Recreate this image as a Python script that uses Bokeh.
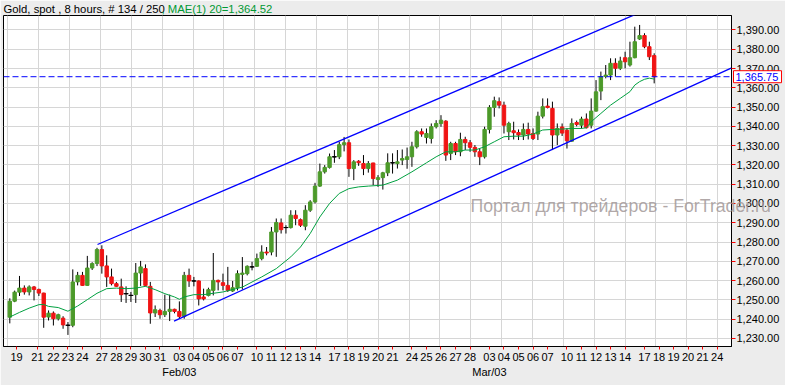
from bokeh.plotting import figure
from bokeh.models import (Range1d, FixedTicker, NumeralTickFormatter, LinearAxis, Span,
                          ColumnDataSource)
from bokeh.core.properties import value
from bokeh.embed import file_html
from bokeh.resources import INLINE

# ---------------- data ----------------
opens = [1241.0,1249.3,1254.0,1256.1,1254.1,1256.7,1255.4,1253.5,1241.1,1243.1,
         1240.2,1240.5,1236.8,1236.8,1259.3,1262.7,1257.5,1266.5,1268.8,1276.1,
         1267.6,1261.9,1258.4,1256.7,1253.2,1252.3,1252.7,1263.9,1266.2,1257.0,
         1243.2,1244.5,1242.3,1244.0,1245.1,1244.0,1241.4,1262.7,1259.8,1259.8,
         1251.5,1252.3,1254.9,1260.1,1258.9,1257.5,1254.6,1256.3,1263.2,1263.6,
         1267.1,1267.4,1271.4,1274.8,1274.8,1285.2,1289.9,1287.5,1287.5,1293.9,
         1291.6,1288.2,1296.5,1300.8,1309.0,1316.4,1318.7,1324.2,1324.2,1330.5,
         1331.5,1318.1,1321.9,1320.7,1318.1,1321.0,1312.4,1313.4,1315.9,1321.1,
         1320.7,1322.5,1322.8,1324.2,1329.4,1337.2,1334.2,1333.7,1339.8,1341.5,
         1342.7,1325.9,1331.1,1326.8,1333.2,1331.5,1329.1,1326.8,1324.2,1338.4,
         1349.8,1352.8,1351.0,1337.2,1337.7,1336.8,1335.5,1338.4,1336.3,1336.0,
         1345.3,1350.5,1349.3,1335.5,1339.7,1338.0,1332.3,1342.0,1340.6,1343.8,
         1340.6,1347.9,1358.3,1365.9,1366.6,1372.7,1370.1,1375.6,1371.8,1375.6,
         1385.3,1387.1,1381.3,1376.7]
closes = [1249.3,1254.0,1256.1,1254.1,1256.7,1255.4,1253.5,1241.0,1243.1,1240.2,
          1242.3,1237.0,1236.8,1259.3,1262.7,1257.5,1266.5,1268.8,1276.1,1267.6,
          1261.9,1258.4,1257.0,1252.7,1253.2,1252.3,1263.9,1267.1,1257.5,1243.2,
          1244.9,1242.3,1244.0,1245.1,1244.0,1241.4,1262.7,1259.8,1259.8,1250.5,
          1250.5,1255.3,1260.1,1259.3,1257.5,1254.9,1256.3,1263.6,1263.9,1267.4,
          1267.1,1271.4,1274.8,1274.3,1285.2,1290.1,1286.4,1287.5,1293.9,1292.2,
          1288.7,1296.5,1300.8,1309.0,1316.4,1318.7,1324.2,1324.2,1330.5,1331.5,
          1318.1,1321.6,1321.1,1318.1,1320.7,1312.9,1313.4,1315.9,1321.1,1321.1,
          1321.6,1323.3,1324.2,1329.4,1337.2,1336.0,1336.3,1339.8,1341.5,1343.2,
          1325.1,1331.1,1326.8,1333.2,1331.5,1329.1,1326.8,1324.2,1338.4,1349.8,
          1353.3,1351.0,1340.6,1341.5,1336.7,1335.5,1338.4,1336.0,1333.7,1345.3,
          1350.2,1349.8,1335.5,1338.9,1336.5,1332.5,1341.5,1341.0,1343.8,1339.3,
          1347.9,1357.9,1365.8,1366.6,1372.7,1370.1,1373.9,1373.5,1375.6,1383.9,
          1387.1,1381.3,1376.1,1365.75]
highs = [1250.8,1254.8,1262.4,1257.5,1257.5,1257.2,1255.8,1253.7,1244.5,1244.0,
         1242.8,1241.5,1238.5,1265.8,1264.5,1264.5,1272.8,1269.5,1277.0,1278.3,
         1273.1,1266.2,1259.3,1261.0,1257.0,1254.1,1269.1,1270.2,1268.4,1259.3,
         1247.1,1245.4,1252.7,1252.7,1245.4,1249.2,1264.5,1266.2,1261.9,1260.1,
         1255.8,1256.3,1274.3,1260.5,1263.6,1267.1,1259.8,1265.3,1272.2,1267.9,
         1269.7,1274.0,1278.3,1277.4,1287.8,1292.2,1292.2,1288.7,1296.5,1296.5,
         1292.2,1299.1,1301.7,1310.7,1320.7,1319.9,1325.9,1327.7,1332.0,1334.5,
         1333.2,1322.5,1322.5,1325.1,1322.0,1321.1,1314.7,1316.4,1326.0,1326.0,
         1327.7,1328.0,1329.0,1332.0,1338.0,1338.9,1338.9,1341.5,1343.2,1345.8,
         1343.2,1332.0,1332.0,1336.7,1334.6,1332.9,1330.3,1328.5,1339.8,1351.0,
         1355.4,1355.0,1352.8,1342.4,1342.4,1338.4,1341.5,1341.9,1338.9,1347.6,
         1354.5,1354.5,1352.8,1341.5,1341.5,1339.0,1344.1,1343.0,1345.0,1346.7,
         1354.5,1364.0,1368.4,1371.8,1375.3,1375.3,1376.1,1378.7,1383.9,1391.7,
         1392.6,1388.3,1383.9,1377.9]
lows = [1237.8,1248.8,1252.0,1252.7,1252.3,1249.7,1252.0,1235.5,1239.3,1236.7,
        1239.3,1235.0,1231.8,1235.8,1257.5,1257.2,1257.2,1265.5,1267.5,1263.6,
        1256.7,1257.5,1256.7,1248.9,1248.4,1248.9,1248.4,1257.2,1257.0,1237.6,
        1241.1,1240.2,1241.1,1239.0,1243.0,1240.2,1240.2,1256.7,1257.0,1247.1,
        1249.7,1251.8,1252.3,1254.9,1254.9,1254.1,1254.1,1254.9,1255.3,1262.7,
        1265.3,1267.1,1270.5,1273.1,1273.1,1272.3,1284.4,1284.4,1287.0,1288.7,
        1287.8,1286.1,1295.6,1300.0,1308.6,1315.5,1318.1,1321.1,1323.0,1327.0,
        1313.8,1312.1,1319.5,1314.7,1316.0,1309.5,1308.6,1307.2,1314.2,1315.5,
        1318.1,1319.9,1318.0,1319.0,1328.5,1334.6,1331.1,1331.1,1338.9,1339.8,
        1322.1,1322.5,1325.1,1324.5,1327.7,1326.8,1324.2,1319.9,1323.3,1336.3,
        1345.0,1349.3,1336.3,1332.9,1333.2,1332.9,1332.9,1333.2,1332.9,1332.9,
        1344.1,1349.3,1327.7,1330.3,1335.0,1328.5,1332.0,1340.0,1338.9,1338.9,
        1338.9,1347.6,1353.6,1364.9,1364.0,1365.8,1369.2,1370.1,1371.0,1375.3,
        1384.8,1380.5,1374.4,1362.3]

# 20-period moving average (read at sampled bars)
ma_idx = [0, 2, 4, 6, 7, 8, 10, 12, 14, 16, 18, 20, 22, 24, 26, 28, 30, 32, 34, 35,
          36, 38, 40, 44, 48, 52, 55, 58, 60, 62, 64, 66, 68, 70, 72, 74, 77, 80, 83, 86,
          88, 90, 92, 94, 96, 98, 100, 102, 104, 106, 108, 110, 112, 114, 116, 118, 119, 120, 122, 124,
          126, 128, 129, 130, 131, 132, 133]
ma_val = [1241.1, 1243.5, 1245.7, 1247.5, 1247.6, 1246.6, 1246.0, 1244.1, 1246.8, 1250.1,
          1253.4, 1255.8, 1256.1, 1255.8, 1256.1, 1257.0, 1255.3, 1253.2, 1251.5, 1250.3,
          1251.5, 1252.7, 1252.7, 1254.1, 1256.6, 1261.9, 1266.2, 1272.3, 1277.4, 1284.4,
          1293.0, 1300.0, 1305.2, 1307.7, 1308.6, 1309.0, 1309.5, 1312.1, 1316.4, 1321.1,
          1324.2, 1326.8, 1326.8, 1327.7, 1327.7, 1329.4, 1332.0, 1334.6, 1334.9, 1334.9,
          1336.0, 1338.1, 1338.4, 1338.6, 1338.9, 1338.9, 1339.3, 1342.4, 1346.7, 1351.0,
          1354.5, 1358.0, 1361.4, 1363.2, 1364.4, 1365.0, 1364.52]

# channel lines (bar index, price)
upper_idx = [18.1, 134.0]
upper_px = [1278.7, 1403.3]
lower_idx = [33.9, 149.0]
lower_px = [1239.0, 1370.3]
last_price = 1365.75
ma_last = 1364.52

# x-axis day ticks
day_pos = [1.4, 5.7, 9, 12, 15, 19, 22, 25, 28, 31, 35, 38, 41, 44, 47, 51, 54, 57, 60, 63,
           67, 70, 73, 76, 79, 83, 86, 89, 92, 95, 99, 102, 105, 108, 111, 115, 118, 121, 124, 127,
           131, 134, 137, 140, 143, 146]
day_lab = ["19", "21", "22", "23", "24", "27", "28", "29", "30", "31",
           "03", "04", "05", "06", "07", "10", "11", "12", "13", "14",
           "17", "18", "19", "20", "21", "24", "25", "26", "27", "28",
           "03", "04", "05", "06", "07", "10", "11", "12", "13", "14",
           "17", "18", "19", "20", "21", "24"]
month_pos = [35, 99]
month_lab = ["Feb/03", "Mar/03"]
y_ticks = [1230, 1240, 1250, 1260, 1270, 1280, 1290, 1300, 1310, 1320, 1330, 1340,
           1350, 1360, 1370, 1380, 1390]

# ---------------- figure ----------------
FONT = "Liberation Sans"
GREEN = "#4c9a2a"
RED = "#f01414"
W, H = 785, 385
X0, X1 = -1.3, 148.96
Y0, Y1 = 1225.8, 1397.5
FL, FR, FT, FB = 3, 731, 15, 346   # frame edges in pixels

p = figure(width=W, height=H, x_range=Range1d(X0, X1), y_range=Range1d(Y0, Y1),
           output_backend="svg", toolbar_location=None, y_axis_location="right", title=None,
           min_border_left=FL, min_border_right=W - FR, min_border_top=FT, min_border_bottom=H - FB)
p.background_fill_color = "white"
p.border_fill_color = "#ececec"
p.outline_line_color = "black"
p.outline_line_width = 1

# grids
p.ygrid.grid_line_color = "#d6d6d6"
p.xgrid.grid_line_color = "#d6d6d6"
p.xgrid.ticker = FixedTicker(ticks=[-0.4 + 6.37 * k for k in range(24)])

# y axis
ya = p.yaxis[0]
ya.ticker = FixedTicker(ticks=y_ticks)
ya.formatter = NumeralTickFormatter(format="0,0.00")
ya.major_tick_line_color = "red"
ya.major_tick_out = 4
ya.major_tick_in = 0
ya.minor_tick_line_color = None
ya.axis_line_color = "black"
ya.major_label_standoff = 1
ya.major_label_text_font = FONT
ya.major_label_text_font_size = "11px"
ya.major_label_text_color = "black"

# x axis (days)
xa = p.xaxis[0]
xa.ticker = FixedTicker(ticks=day_pos)
xa.major_label_overrides = {k: v for k, v in zip(day_pos, day_lab)}
xa.major_tick_line_color = "red"
xa.major_tick_out = 3
xa.major_tick_in = 0
xa.minor_tick_line_color = None
xa.axis_line_color = "black"
xa.major_label_standoff = 3
xa.major_label_text_font = FONT
xa.major_label_text_font_size = "11px"
xa.major_label_text_color = "black"

# month axis
mx = LinearAxis(ticker=FixedTicker(ticks=month_pos),
                major_label_overrides={k: v for k, v in zip(month_pos, month_lab)})
mx.major_tick_line_color = None
mx.minor_tick_line_color = None
mx.axis_line_color = None
mx.major_tick_out = 0
mx.major_tick_in = 0
mx.major_label_standoff = 2
mx.major_label_text_font = FONT
mx.major_label_text_font_size = "11px"
mx.major_label_text_color = "black"
p.add_layout(mx, "below")

# candles
idx = list(range(len(opens)))
body_top = [max(o, c) for o, c in zip(opens, closes)]
body_bot = [min(o, c) for o, c in zip(opens, closes)]
colors = [GREEN if c > o else (RED if c < o else "black") for o, c in zip(opens, closes)]
src = ColumnDataSource(dict(x=idx, top=body_top, bottom=body_bot, high=highs, low=lows, color=colors))
p.segment(x0="x", y0="low", x1="x", y1="high", source=src, line_color="black", line_width=1)
p.vbar(x="x", width=0.7, top="top", bottom="bottom", source=src, fill_color="color", line_color="color")
doji = [i for i in idx if opens[i] == closes[i]]
p.segment(x0=[i - 0.5 for i in doji], x1=[i + 0.5 for i in doji],
          y0=[opens[i] for i in doji], y1=[opens[i] for i in doji], line_color="black", line_width=1)

# moving average
p.line(ma_idx, ma_val, line_color="#00a040", line_width=1)

# channel
p.line(upper_idx, upper_px, line_color="#0000ff", line_width=1.3)
p.line(lower_idx, lower_px, line_color="#0000ff", line_width=1.3)

# last price line
p.add_layout(Span(location=last_price, dimension="width", line_color="#0000ff",
                  line_dash="6 3", line_width=1))

# pixel -> data helpers for overlay texts placed around the frame
def dx(px):
    return X0 + (px - FL) / (FR - FL) * (X1 - X0)

def dy(py):
    return Y1 - (py - FT) / (FB - FT) * (Y1 - Y0)

# price tag on the axis (drawn at overlay level so it can sit over the axis)
tag = p.rect(x=[dx(757)], y=[last_price], width=48, height=12, width_units="screen",
             height_units="screen", fill_color="white", line_color="red", line_width=1)
tag.level = "overlay"
tagt = p.text(x=[dx(735)], y=[last_price], text=["{:,.2f}".format(last_price)],
              text_color="#0000ff", text_font=value(FONT), text_font_size="11px",
              text_baseline="middle", text_align="left")
tagt.level = "overlay"

# watermark
wm = p.text(x=[dx(470)], y=[dy(205)], text=["Портал для трейдеров - ForTrader.ru"],
            text_font=value(FONT), text_font_size="17.7px", text_color="#a39999", text_alpha=0.85,
            text_baseline="middle", text_align="left")
wm.level = "overlay"

# header
h1 = p.text(x=[dx(3)], y=[dy(8)], text=["Gold, spot , 8 hours, # 134 / 250"],
            text_font=value(FONT), text_font_size="11.3px", text_color="black",
            text_baseline="middle", text_align="left")
h1.level = "overlay"
h2 = p.text(x=[dx(161)], y=[dy(8)], text=[", MAE(1) 20={:,.2f}".format(ma_last)],
            text_font=value(FONT), text_font_size="11.3px", text_color="#009933",
            text_baseline="middle", text_align="left")
h2.level = "overlay"

open("out.html", "w").write(file_html(p, INLINE))
